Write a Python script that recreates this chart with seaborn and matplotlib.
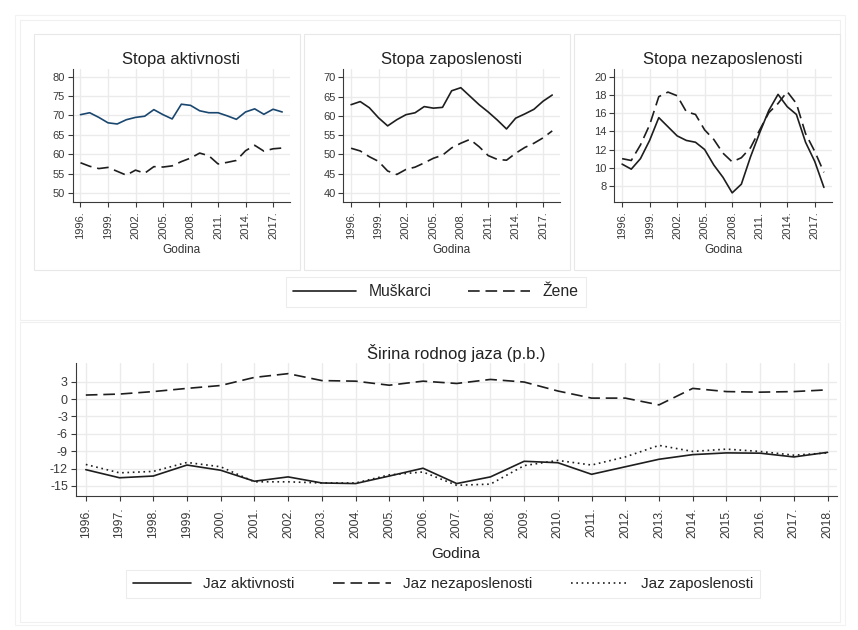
import numpy as np
import pandas as pd
import matplotlib
matplotlib.use("Agg")
import matplotlib.pyplot as plt
from matplotlib.lines import Line2D
from matplotlib.patches import Rectangle
import seaborn as sns

# -----------------------------
# Data
# -----------------------------
years = [1996, 1997, 1998, 1999, 2000, 2001, 2002, 2003, 2004, 2005, 2006, 2007,
         2008, 2009, 2010, 2011, 2012, 2013, 2014, 2015, 2016, 2017, 2018]

akt_muski = [70.2, 70.7, 69.5, 68.1, 67.8, 68.9, 69.5, 69.8, 71.5, 70.2, 69.1, 72.9,
             72.6, 71.2, 70.7, 70.7, 69.9, 69.0, 70.9, 71.7, 70.3, 71.6, 70.9]
akt_zene = [57.8, 56.9, 56.3, 56.6, 55.6, 54.6, 55.9, 55.1, 56.8, 56.7, 57.0, 58.1,
            59.0, 60.3, 59.6, 57.5, 57.9, 58.4, 60.9, 62.3, 60.8, 61.4, 61.6]

zap_muski = [62.9, 63.7, 62.1, 59.5, 57.4, 59.0, 60.3, 60.8, 62.4, 62.0, 62.2, 66.5,
             67.3, 65.1, 62.9, 61.0, 58.9, 56.6, 59.4, 60.5, 61.7, 63.8, 65.4]
zap_zene = [51.6, 50.9, 49.4, 48.2, 45.7, 44.8, 46.1, 46.7, 47.8, 49.0, 49.8, 51.7,
            52.9, 53.9, 52.0, 49.7, 48.7, 48.5, 50.3, 51.8, 52.9, 54.3, 56.1]

nez_muski = [10.4, 9.85, 11.0, 13.0, 15.5, 14.5, 13.5, 13.0, 12.8, 12.0, 10.3, 8.95,
             7.25, 8.2, 11.2, 13.85, 16.3, 18.05, 16.7, 15.85, 12.8, 10.7, 7.85]
nez_zene = [11.0, 10.8, 12.5, 14.7, 17.8, 18.3, 17.9, 16.15, 15.85, 14.15, 13.1, 11.6,
            10.65, 11.1, 12.2, 14.15, 16.05, 17.05, 18.35, 17.05, 13.75, 11.8, 9.5]

jaz_akt = [-12.2, -13.6, -13.3, -11.4, -12.3, -14.2, -13.45, -14.5, -14.6, -13.3, -11.95, -14.6,
           -13.45, -10.75, -11.0, -13.0, -11.7, -10.4, -9.6, -9.3, -9.35, -10.0, -9.2]
jaz_nez = [0.7, 0.87, 1.3, 1.85, 2.35, 3.75, 4.4, 3.2, 3.1, 2.4, 3.1, 2.7,
           3.4, 2.95, 1.4, 0.17, 0.17, -1.0, 1.85, 1.3, 1.2, 1.3, 1.6]
jaz_zap = [-11.3, -12.75, -12.5, -10.95, -11.7, -14.3, -14.3, -14.5, -14.5, -13.1, -12.6, -14.9,
           -14.7, -11.5, -10.6, -11.4, -10.0, -8.0, -9.05, -8.65, -9.05, -9.7, -9.3]

top_titles = ["Stopa aktivnosti", "Stopa zaposlenosti", "Stopa nezaposlenosti"]
top_yticks = [[50, 55, 60, 65, 70, 75, 80], [40, 45, 50, 55, 60, 65, 70],
              [8, 10, 12, 14, 16, 18, 20]]
top_xticks = [1996, 1999, 2002, 2005, 2008, 2011, 2014, 2017]
gap_yticks = [-15, -12, -9, -6, -3, 0, 3]

# -----------------------------
# Theme
# -----------------------------
sns.set_theme(style="whitegrid")
plt.rcParams["font.family"] = ["Liberation Sans", "DejaVu Sans"]
plt.rcParams["axes.unicode_minus"] = False
plt.rcParams["grid.color"] = "#ebebeb"
plt.rcParams["grid.linewidth"] = 1.0
plt.rcParams["axes.edgecolor"] = "#3a3a3a"
plt.rcParams["axes.linewidth"] = 0.8
plt.rcParams["xtick.color"] = "#3a3a3a"
plt.rcParams["ytick.color"] = "#3a3a3a"
plt.rcParams["xtick.major.size"] = 3.6
plt.rcParams["ytick.major.size"] = 3.6
plt.rcParams["xtick.major.width"] = 0.8
plt.rcParams["ytick.major.width"] = 0.8
plt.rcParams["xtick.bottom"] = True
plt.rcParams["ytick.left"] = True

W, H = 858, 630
fig = plt.figure(figsize=(W / 100, H / 100), dpi=100)
fig.patch.set_facecolor("white")

DARK = "#1e1e1e"
NAVY = "#1a476f"
DASH = (0, (7, 3.5))
DOT = (0, (1, 2.2))


def box(x0, y0, x1, y1, ec="#e8e8e8"):
    # rectangle given in pixel coords from the top-left corner
    fig.patches.append(Rectangle((x0 / W, 1 - y1 / H), (x1 - x0) / W, (y1 - y0) / H,
                                 transform=fig.transFigure, fill=False,
                                 edgecolor=ec, linewidth=0.8, zorder=0))


def axes_px(x0, y0, x1, y1):
    return fig.add_axes([x0 / W, 1 - y1 / H, (x1 - x0) / W, (y1 - y0) / H])


def style_axes(ax):
    for side in ["top", "right"]:
        ax.spines[side].set_visible(False)
    ax.grid(True, which="major", axis="both")
    ax.set_facecolor("white")


# frames of the Stata-like graph regions
box(15, 15, 845, 625, ec="#f2f2f2")
box(20, 20, 840, 320, ec="#f0f0f0")
box(20, 322, 840, 622, ec="#f0f0f0")
box(34, 34, 300, 270)
box(304, 34, 570, 270)
box(574, 34, 840, 270)

# -----------------------------
# Top row: rates by gender
# -----------------------------
top_pos = [(72.7, 69.3, 290, 201.7), (343.3, 69.3, 560, 201.7), (614.3, 69.3, 831.7, 201.7)]
top_ylim = [(47.76, 81.9), (37.74, 72.07), (6.28, 20.8)]
top_series = [(akt_muski, akt_zene), (zap_muski, zap_zene), (nez_muski, nez_zene)]

for i in range(3):
    ax = axes_px(*top_pos[i])
    style_axes(ax)
    m_vals, z_vals = top_series[i]
    men_color = NAVY if i == 0 else DARK
    sns.lineplot(x=years, y=m_vals, ax=ax, color=men_color, linewidth=1.2)
    sns.lineplot(x=years, y=z_vals, ax=ax, color=DARK, linewidth=1.2, linestyle=DASH)
    ax.set_xlim(1995.15, 2018.85)
    ax.set_ylim(*top_ylim[i])
    ax.set_yticks(top_yticks[i])
    ax.set_yticklabels([str(v) for v in top_yticks[i]], fontsize=8)
    ax.set_xticks(top_xticks)
    ax.set_xticklabels([f"{y}." for y in top_xticks], rotation=90, fontsize=8)
    ax.tick_params(axis="x", pad=3.6)
    ax.tick_params(axis="y", pad=2)
    ax.set_xlabel("Godina", fontsize=8.5, color="#333333", labelpad=3)
    ax.set_ylabel("")
    ax.set_title(top_titles[i], fontsize=12, color="#222222", pad=4)

top_handles = [Line2D([], [], color=DARK, linewidth=1.2),
               Line2D([], [], color=DARK, linewidth=1.2, linestyle=DASH)]
leg1 = fig.legend(top_handles, ["Muškarci", "Žene"], loc="center",
                  bbox_to_anchor=(436 / W, 1 - 292 / H), ncol=2, frameon=True,
                  fontsize=11.3, handlelength=4.0, columnspacing=2.3, handletextpad=0.8,
                  borderpad=0.45, borderaxespad=0, fancybox=False)
leg1.get_frame().set_edgecolor("#e8e8e8")
leg1.get_frame().set_linewidth(0.8)

# -----------------------------
# Bottom: gender gaps
# -----------------------------
ax = axes_px(75.7, 363, 836.7, 495.7)
style_axes(ax)
sns.lineplot(x=years, y=jaz_akt, ax=ax, color=DARK, linewidth=1.2)
sns.lineplot(x=years, y=jaz_nez, ax=ax, color=DARK, linewidth=1.2, linestyle=DASH)
sns.lineplot(x=years, y=jaz_zap, ax=ax, color=DARK, linewidth=1.2, linestyle=DOT)
ax.set_xlim(1995.70, 2018.27)
ax.set_ylim(-16.7, 6.24)
ax.set_yticks(gap_yticks)
ax.set_yticklabels([str(v) for v in gap_yticks], fontsize=9)
ax.set_xticks(years)
ax.set_xticklabels([f"{y}." for y in years], rotation=90, fontsize=8.8)
ax.tick_params(axis="x", pad=5)
ax.tick_params(axis="y", pad=2)
ax.set_xlabel("Godina", fontsize=11, color="#222222", labelpad=6)
ax.set_ylabel("")
ax.set_title("Širina rodnog jaza (p.b.)", fontsize=12, color="#222222", pad=3)

gap_handles = [Line2D([], [], color=DARK, linewidth=1.2),
               Line2D([], [], color=DARK, linewidth=1.2, linestyle=DASH),
               Line2D([], [], color=DARK, linewidth=1.2, linestyle=DOT)]
leg2 = fig.legend(gap_handles, ["Jaz aktivnosti", "Jaz nezaposlenosti", "Jaz zaposlenosti"],
                  loc="center", bbox_to_anchor=(443 / W, 1 - 584 / H), ncol=3, frameon=True,
                  fontsize=11, handlelength=3.8, columnspacing=2.5, handletextpad=0.8,
                  borderpad=0.45, borderaxespad=0, fancybox=False)
leg2.get_frame().set_edgecolor("#e8e8e8")
leg2.get_frame().set_linewidth(0.8)

fig.savefig("out.png", dpi=100, facecolor="white")
